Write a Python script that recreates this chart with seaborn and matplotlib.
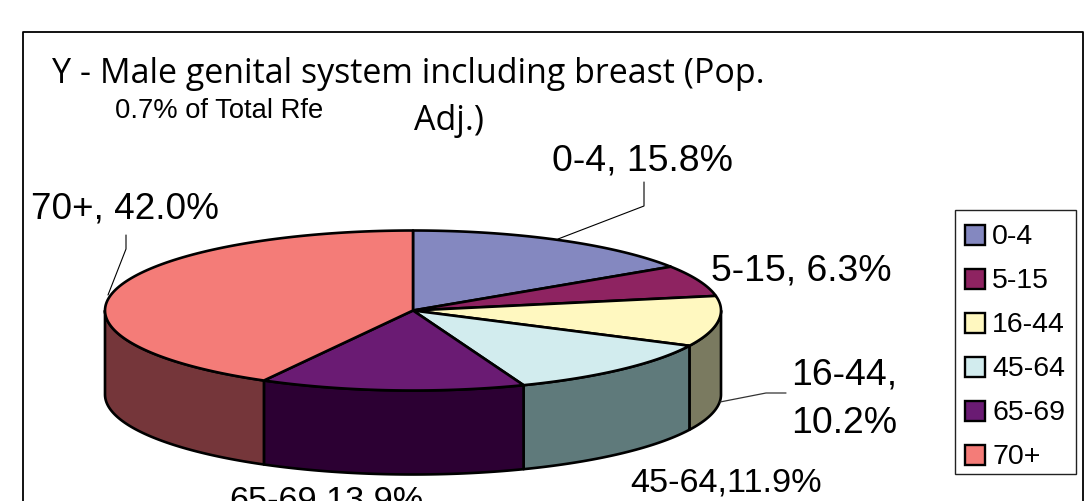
import numpy as np
import matplotlib
matplotlib.use('Agg')
import matplotlib.pyplot as plt
from matplotlib.patches import Polygon, Rectangle
import seaborn as sns

sns.set_theme(style='white')
plt.rcParams['font.family'] = ['Liberation Sans', 'DejaVu Sans']

categories = ['0-4', '5-15', '16-44', '45-64', '65-69', '70+']
shares = [15.8, 6.3, 10.2, 11.9, 13.9, 42.0]
top_colors = ['#8488C0', '#8E2361', '#FFF8C0', '#D2ECEE', '#6A1B73', '#F47C78']
side_colors = ['#42465F', '#47112F', '#7A7A60', '#5F7A7B', '#2C0033', '#75363A']
label_texts = ['0-4, 15.8%', '5-15, 6.3%', '16-44,\n10.2%', '45-64,11.9%', '65-69,13.9%', '70+, 42.0%']

# pie geometry in pixels
cx, cy = 413, 311.5
rx, ry = 308, 80
depth = 84


def rim(a0, a1):
    t = np.radians(np.linspace(a0, a1, 120))
    return np.column_stack([cx + rx * np.sin(t), cy - ry * np.cos(t)])


fig, ax = plt.subplots(figsize=(10.91, 5.02), dpi=100)
fig.subplots_adjust(0, 0, 1, 1)
ax.set_xlim(0, 1091)
ax.set_ylim(502, 0)
ax.axis('off')

# chart frame, runs off the bottom of the image
ax.plot([23, 23, 1083, 1083], [502, 33, 33, 502], color='black', lw=1.3, clip_on=False)

edges = 360 * np.cumsum([0] + shares) / sum(shares)

# side walls, only the part of each slice that faces the viewer
for i in range(len(shares)):
    a0, a1 = max(edges[i], 90), min(edges[i + 1], 270)
    if a1 <= a0:
        continue
    arc = rim(a0, a1)
    wall = np.vstack([arc, (arc + [0, depth])[::-1]])
    ax.add_patch(Polygon(wall, closed=True, fc=side_colors[i], ec='black', lw=1.9, joinstyle='round', zorder=2))

# top faces
for i in range(len(shares)):
    top = np.vstack([[cx, cy], rim(edges[i], edges[i + 1])])
    ax.add_patch(Polygon(top, closed=True, fc=top_colors[i], ec='black', lw=1.9, joinstyle='round', zorder=3))

# labels
ax.text(552, 161, label_texts[0], fontsize=26.9, ha='left', va='center', color='black', zorder=5)
ax.text(711, 271, label_texts[1], fontsize=26.9, ha='left', va='center', color='black', zorder=5)
ax.text(791, 399, label_texts[2], fontsize=26.9, ha='left', va='center', color='black', linespacing=1.5, zorder=5)
ax.text(630, 483, label_texts[3], fontsize=24.7, ha='left', va='center', color='black', zorder=5)
ax.text(229, 501, label_texts[4], fontsize=24.7, ha='left', va='center', color='black', zorder=5)
ax.text(31, 209, label_texts[5], fontsize=26.6, ha='left', va='center', color='black', zorder=5)

# leader lines
ax.plot([558, 644, 644], [240, 207, 183], color='black', lw=0.8, zorder=4)
ax.plot([720, 766, 786], [403, 394, 394], color='#333333', lw=0.9, zorder=4)
ax.plot([126, 126, 108], [236, 250, 296], color='black', lw=0.8, zorder=4)

# titles
ax.text(52, 74, 'Y - Male genital system including breast (Pop.', fontsize=24.45, family='Open Sans',
        ha='left', va='center', color='black')
ax.text(414, 121, 'Adj.)', fontsize=24.45, family='Open Sans', ha='left', va='center', color='black')
ax.text(115, 111, '0.7% of Total Rfe', fontsize=19.7, ha='left', va='center', color='black')

# legend
ax.add_patch(Rectangle((954.5, 211), 121, 264, fc='white', ec='#222222', lw=1.0, zorder=4))
for i, name in enumerate(categories):
    y = 236 + i * 44
    ax.add_patch(Rectangle((965, y - 10), 20, 20, fc=top_colors[i], ec='black', lw=1.7, zorder=5))
    ax.text(992, y + 1.5, name, fontsize=20.5, ha='left', va='center', color='black', zorder=5)

fig.savefig('out.png', dpi=100)
